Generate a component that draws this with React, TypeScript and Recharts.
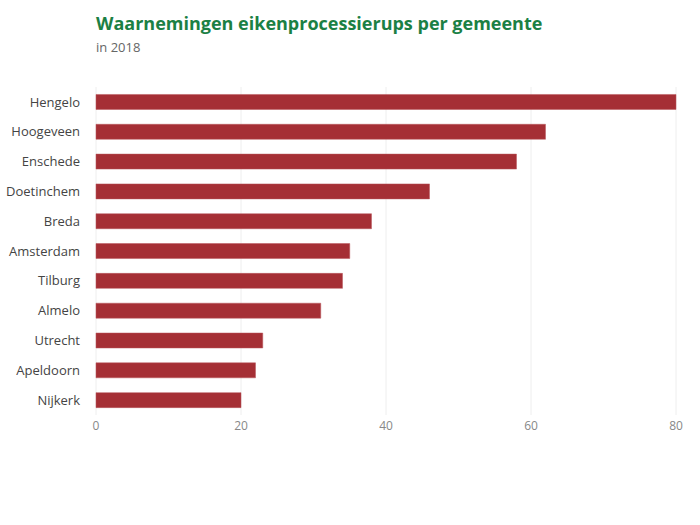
import { Bar, BarChart, CartesianGrid, XAxis, YAxis } from 'recharts'

const gemeenten = [
  'Hengelo', 'Hoogeveen', 'Enschede', 'Doetinchem', 'Breda', 'Amsterdam',
  'Tilburg', 'Almelo', 'Utrecht', 'Apeldoorn', 'Nijkerk',
]
const waarnemingen = [80, 62, 58, 46, 38, 35, 34, 31, 23, 22, 20]
const xTicks = [0, 20, 40, 60, 80]

const data = gemeenten.map((name, i) => ({ name, value: waarnemingen[i] }))

const FONT = '"Open Sans", sans-serif'

export default function App() {
  return (
    <div style={{ position: 'absolute', left: 0, top: 0, width: 700, height: 525, background: '#fff', fontFamily: FONT }}>
      <div style={{ position: 'absolute', left: 96, top: 11, fontSize: 18, fontWeight: 700, color: '#1b8044', whiteSpace: 'nowrap' }}>
        Waarnemingen eikenprocessierups per gemeente
      </div>
      <div style={{ position: 'absolute', left: 96, top: 38, fontSize: 13, color: '#666', whiteSpace: 'nowrap' }}>
        in 2018
      </div>
      <BarChart
        width={700}
        height={525}
        data={data}
        layout="vertical"
        margin={{ top: 87, right: 24, left: 0, bottom: 80 }}
        barCategoryGap="25%"
        style={{ position: 'absolute', left: 0, top: 0 }}
      >
        <CartesianGrid horizontal={false} stroke="#eeeeee" strokeWidth={1} />
        <XAxis
          type="number"
          domain={[0, 80]}
          ticks={xTicks}
          axisLine={false}
          tickLine={false}
          tickMargin={0}
          height={30}
          tick={{ fontSize: 12, fill: '#888', fontFamily: FONT }}
        />
        <YAxis
          type="category"
          dataKey="name"
          width={96}
          axisLine={false}
          tickLine={false}
          tickMargin={10}
          tick={{ fontSize: 13, fill: '#444', fontFamily: FONT }}
        />
        <Bar dataKey="value" fill="#a52f35" stroke="#b8575c" strokeWidth={0.5} isAnimationActive={false} />
      </BarChart>
    </div>
  )
}
